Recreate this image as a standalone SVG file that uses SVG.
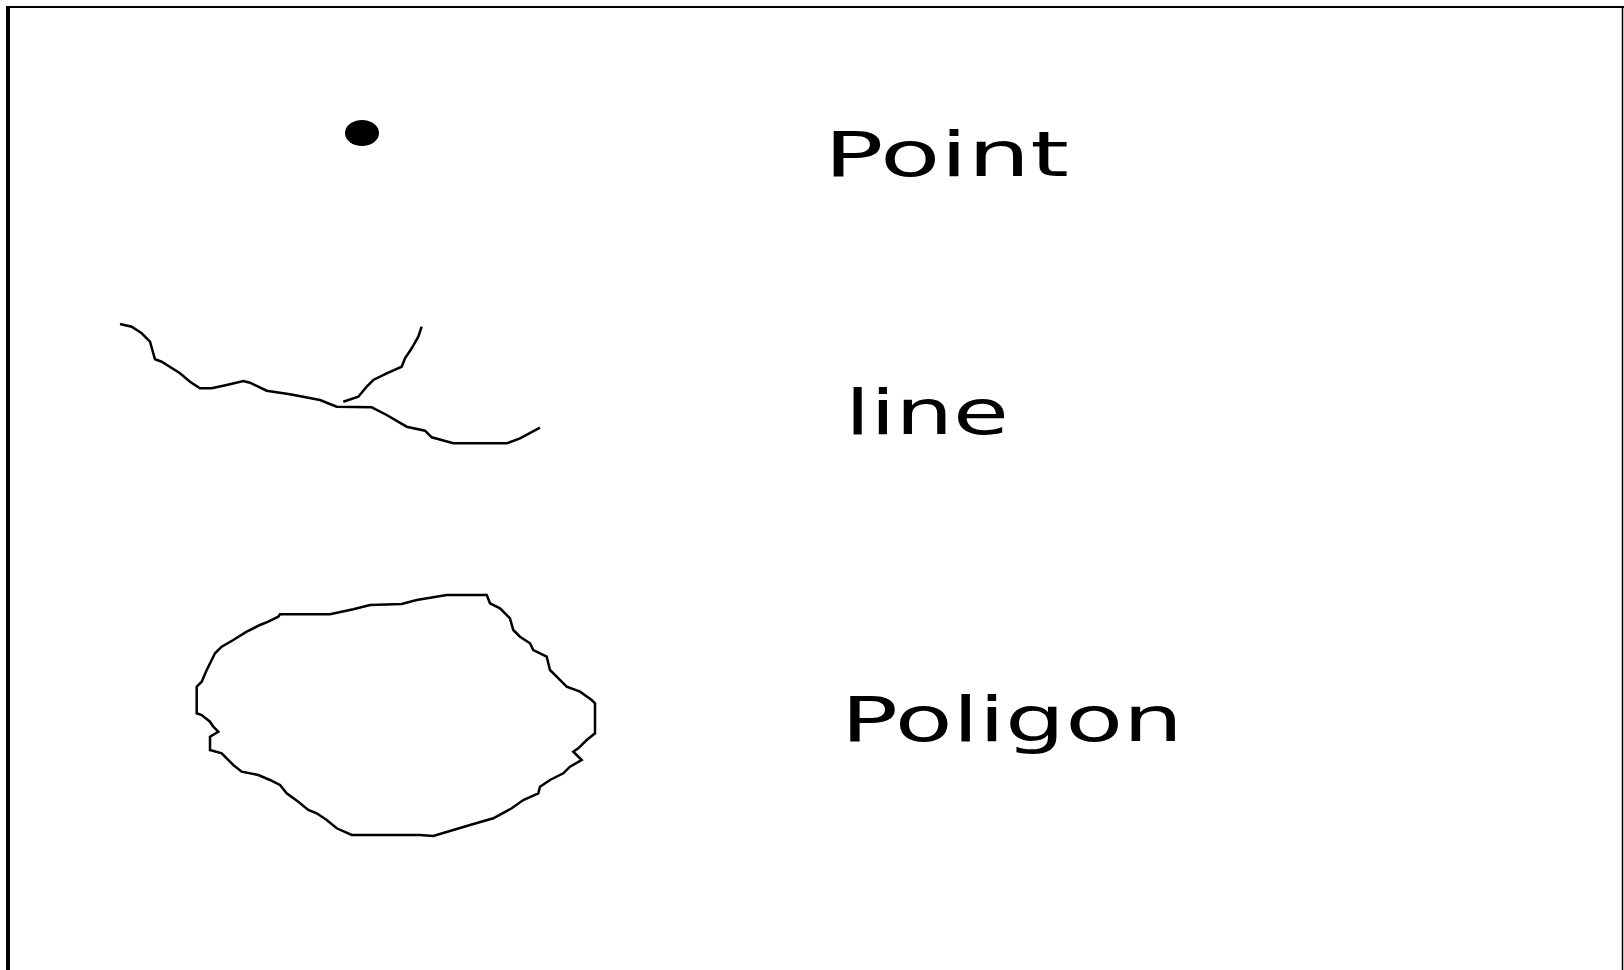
<svg xmlns="http://www.w3.org/2000/svg" width="1624" height="970" viewBox="0 0 1624 970">
<style>
.ln{fill:none;stroke:#000;stroke-width:2.5;stroke-linejoin:miter;stroke-linecap:butt}
.lbl{font-family:"DejaVu Sans",sans-serif;font-size:62px;fill:#000}
</style>
<rect width="1624" height="970" fill="#fff"/>
<g id="frame">
<line x1="8" y1="6" x2="8" y2="970" stroke="#000" stroke-width="4"/>
<line x1="6" y1="7" x2="1624" y2="7" stroke="#000" stroke-width="2"/>
<line x1="1622.5" y1="6" x2="1622.5" y2="970" stroke="#000" stroke-width="1.5"/>
</g>
<g id="point">
<ellipse cx="362" cy="133" rx="17" ry="13" fill="#000"/>
<text class="lbl" x="824" y="176" textLength="245" lengthAdjust="spacingAndGlyphs">Point</text>
</g>
<g id="line">
<polyline class="ln" points="120,324 131.7,326.7 141.7,333.3 150,341.7 155,359.3 161.7,361.7 180,373.3 190,381.7 200,388.3 211.7,388.3 226.7,385 243.3,381 250,382.7 266.7,390.7 290,394.3 320,400 336.7,406.7 371.7,407.3 386.7,415 406.7,426.7 425,430.7 431.7,437.3 453.3,443.3 506.7,443.3 520,438.3 540,427.7"/>
<polyline class="ln" points="343.3,401.7 358.3,396.7 366.7,386.7 373.3,380 386.7,373.3 401.7,366.7 405,358.3 411.7,348.3 418.3,336.7 421.7,326.7"/>
<text class="lbl" x="845" y="434" textLength="164" lengthAdjust="spacingAndGlyphs">line</text>
</g>
<g id="polygon">
<polygon class="ln" points="280,614.3 330,614.3 353.3,609.3 370,605 401.7,604 416.7,600 446.7,595 486.7,595 490,603.3 500,608.3 510,618.3 513.3,630 520,636.7 530,643.3 533.3,650 546.7,656.7 550,670 556.7,676.7 566.7,686.7 580,691.7 591.7,700 595,703.3 595,733.3 586.7,740 578.3,748.3 573.3,751.7 581.7,760 570,766.7 563.3,773.3 550,780 540,786.7 538.3,793.3 523.3,800 511.7,808.3 493.3,818.3 470,825 453.3,830 433.3,836 420,835 351.7,835 336.7,828.3 326.7,820 316.7,813.3 308.3,810 298.3,801.7 286.7,793.3 280,785 270,780 258.3,775 241.7,771.7 233.3,765 221.7,753.3 210,750 210,736.7 218.3,731.7 213.3,726.7 210,721.7 201.7,715 196.7,713.3 196.7,686.7 201.7,681.7 206.7,670 211.7,660 215,653.3 221.7,646.7 233.3,640 246.7,631.7 260,625 268.3,621.7 278.3,616.7"/>
<text class="lbl" x="841" y="741" textLength="342" lengthAdjust="spacingAndGlyphs">Poligon</text>
</g>
</svg>
